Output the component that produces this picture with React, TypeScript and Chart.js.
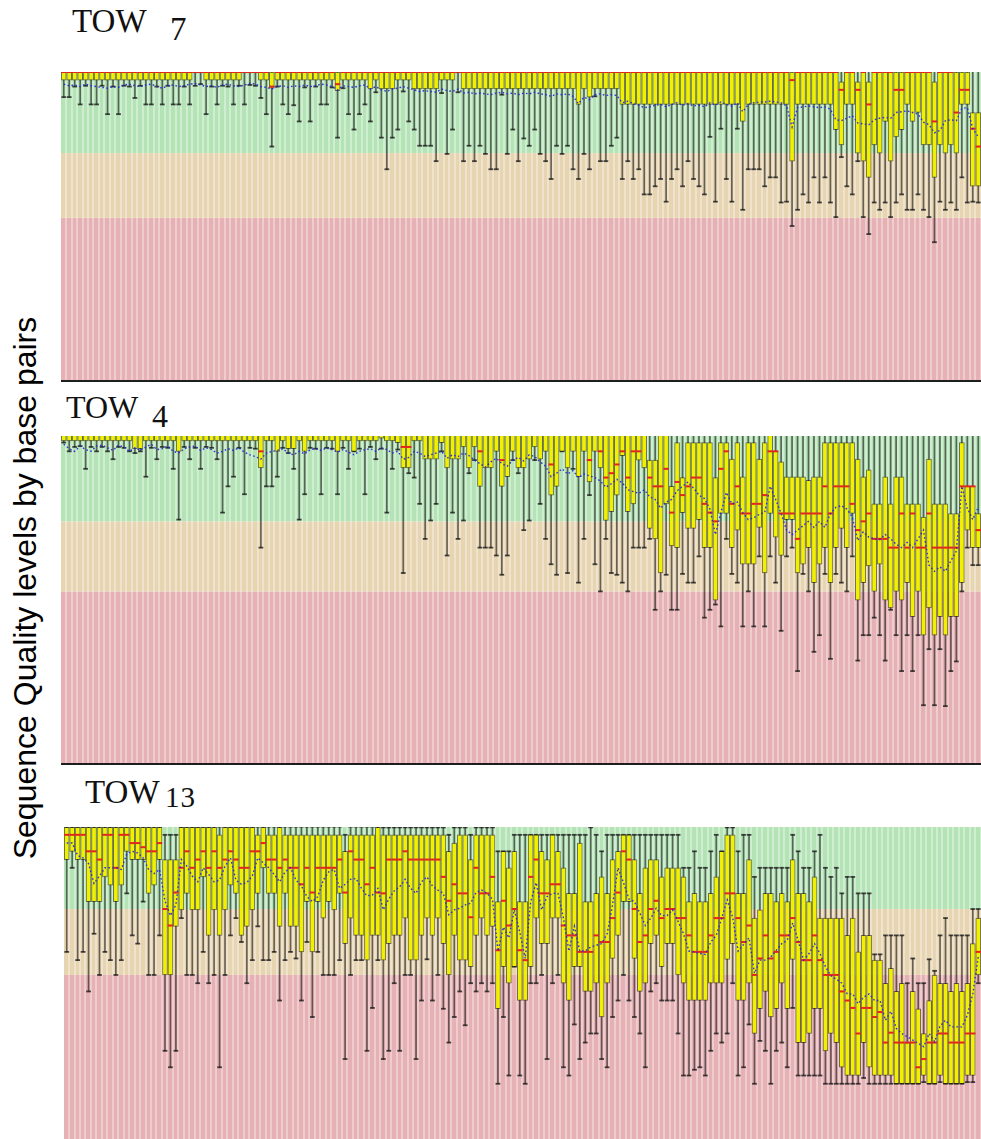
import React, { useEffect, useRef } from "react";
import { Chart, registerables } from "chart.js";

Chart.register(...registerables);

// ---------- categories ----------
const basePositions: string[] = Array.from({ length: 168 }, (_, i) => String(i + 1));

const titleWords = ["TOW", "TOW", "TOW"];
const titleNumbers = ["7", "4", "13"];
const yAxisLabel = "Sequence Quality levels by base pairs";

// quality bands (Phred score)
const bandLimits = [20, 28];

// ---------- TOW 7 ----------
const tow7Low: number[] = [
  34.9, 34.9, 36.2, 34, 36.3, 34, 34, 36.3, 32.8, 36.2,
  32.8, 36.3, 36.2, 34.8, 36.3, 34, 34, 36.2, 34, 36.3,
  34, 34, 36.2, 34, 36.3, 36.5, 32.8, 36.2, 34, 36.3,
  36.2, 34, 36.3, 34, 36.4, 36.3, 34.8, 32.8, 28.8, 36.2,
  34, 32.8, 33.9, 31.9, 36.1, 31.9, 36.2, 34, 34, 36.1,
  29.9, 36, 32.8, 30.9, 32.8, 34, 31.9, 35.5, 29.9, 26,
  29.9, 30.9, 35.6, 31.9, 30.9, 28.9, 28.9, 28.9, 27, 35.4,
  27.9, 30.9, 35.5, 27, 28.9, 27, 28.9, 27.9, 26, 26,
  35.2, 27.9, 30.9, 27, 29.8, 28.9, 30.9, 27.9, 27, 24.8,
  28.9, 27.9, 28.9, 26, 24.8, 27.9, 26, 35, 27, 27,
  28.9, 29.9, 24.8, 27, 24.8, 26, 22.9, 22.9, 23.9, 24.8,
  22, 24.8, 26, 23.9, 27, 24.8, 23.9, 22.9, 30, 22,
  31, 24.8, 22, 31, 21, 26, 26, 26, 23.9, 25,
  25, 21.9, 22, 19, 21, 22.9, 21.9, 25, 21.9, 25,
  21.9, 20.1, 27.5, 23.9, 22.9, 27, 20.1, 18, 21.9, 21,
  21.9, 20.1, 21.9, 22.9, 21, 21, 22.9, 21, 20.1, 17,
  22, 21, 21.9, 21, 25, 21.9, 22, 21.9,
];
const tow7Q1: number[] = [
  37, 37, 37, 37, 37, 37, 37, 37, 37, 37,
  37, 37, 37, 37, 37, 37, 37, 37, 37, 37,
  37, 37, 37, 37, 37.9, 37.9, 37, 37, 37, 37,
  37, 37, 37, 37.9, 37.9, 37.9, 37, 37, 36, 37,
  37, 37, 37, 37, 37, 37, 37, 37, 37, 37,
  35.7, 37, 37, 37, 37, 37, 35.9, 37, 35.9, 35.9,
  35.9, 37, 37, 37, 35.9, 35.9, 35.9, 35.9, 35.9, 37,
  37, 37, 37.9, 35.9, 35.9, 35.9, 35.9, 35.9, 35.9, 35.9,
  35.9, 35.9, 35.9, 35.9, 35.9, 35.9, 35.9, 35.9, 35.9, 35.9,
  35.9, 35.9, 35.9, 35.9, 34, 35.9, 34.9, 35.9, 35.9, 35.9,
  35.9, 35.9, 34, 34, 34, 34, 34, 34, 34, 34,
  34, 34, 34, 34, 34, 34, 34, 34, 34, 34,
  34, 34, 34, 34, 31.9, 34, 34, 34, 34, 34,
  34, 34, 34, 27, 34, 34, 34, 34, 34, 34,
  34, 30.9, 29, 34, 34, 28, 27, 25, 29, 28,
  31.9, 27, 30, 30.9, 34, 31.9, 33, 29, 29, 25,
  29, 28, 29, 28, 34, 34, 23.9, 23.9,
];
const tow7Median: number[] = [
  38, 38, 38, 38, 38, 38, 38, 38, 38, 38,
  38, 38, 38, 38, 38, 38, 38, 38, 38, 38,
  38, 38, 38, 38, 38, 38, 38, 38, 38, 38,
  38, 38, 38, 38, 38, 38, 38, 38, 36.2, 38,
  38, 38, 38, 38, 38, 38, 38, 38, 38, 38,
  36.5, 38, 38, 38, 38, 38, 38, 38, 38, 38,
  38, 38, 38, 38, 38, 38, 38, 38, 38, 38,
  38, 38, 38, 38, 38, 38, 38, 38, 38, 38,
  38, 38, 38, 38, 38, 38, 38, 38, 38, 38,
  38, 38, 38, 38, 38, 38, 38, 38, 38, 38,
  38, 38, 38, 38, 38, 38, 38, 38, 38, 38,
  38, 38, 38, 38, 38, 38, 38, 38, 38, 38,
  38, 38, 38, 38, 38, 38, 38, 38, 38, 38,
  38, 38, 38, 37, 38, 38, 38, 38, 38, 38,
  38, 38, 35.8, 38, 38, 35.8, 38, 34, 38, 38,
  38, 38, 35.8, 35.8, 38, 38, 38, 38, 38, 31.9,
  38, 38, 38, 33, 35.8, 35.8, 31, 28.8,
];
const tow7Q3: number[] = [
  38, 38, 38, 38, 38, 38, 38, 38, 38, 38,
  38, 38, 38, 38, 38, 38, 38, 38, 38, 38,
  38, 38, 38, 38, 38, 38, 38, 38, 38, 38,
  38, 38, 38, 38, 38, 38, 38, 38, 38, 38,
  38, 38, 38, 38, 38, 38, 38, 38, 38, 38,
  38, 38, 38, 38, 38, 38, 38, 38, 38, 38,
  38, 38, 38, 38, 38, 38, 38, 38, 38, 38,
  38, 38, 38, 38, 38, 38, 38, 38, 38, 38,
  38, 38, 38, 38, 38, 38, 38, 38, 38, 38,
  38, 38, 38, 38, 38, 38, 38, 38, 38, 38,
  38, 38, 38, 38, 38, 38, 38, 38, 38, 38,
  38, 38, 38, 38, 38, 38, 38, 38, 38, 38,
  38, 38, 38, 38, 38, 38, 38, 38, 38, 38,
  38, 38, 38, 38, 38, 38, 38, 38, 38, 38,
  38, 38, 36.8, 38, 38, 36.8, 38, 36.8, 38, 38,
  38, 38, 38, 38, 38, 38, 38, 38, 38, 36.8,
  38, 38, 38, 38, 38, 38, 33, 33,
];
const tow7High: number[] = [
  38, 38, 38, 38, 38, 38, 38, 38, 38, 38,
  38, 38, 38, 38, 38, 38, 38, 38, 38, 38,
  38, 38, 38, 38, 38, 38, 38, 38, 38, 38,
  38, 38, 38, 38, 38, 38, 38, 38, 38, 38,
  38, 38, 38, 38, 38, 38, 38, 38, 38, 38,
  38, 38, 38, 38, 38, 38, 38, 38, 38, 38,
  38, 38, 38, 38, 38, 38, 38, 38, 38, 38,
  38, 38, 38, 38, 38, 38, 38, 38, 38, 38,
  38, 38, 38, 38, 38, 38, 38, 38, 38, 38,
  38, 38, 38, 38, 38, 38, 38, 38, 38, 38,
  38, 38, 38, 38, 38, 38, 38, 38, 38, 38,
  38, 38, 38, 38, 38, 38, 38, 38, 38, 38,
  38, 38, 38, 38, 38, 38, 38, 38, 38, 38,
  38, 38, 38, 38, 38, 38, 38, 38, 38, 38,
  38, 38, 38, 38, 38, 38, 38, 38, 38, 38,
  38, 38, 38, 38, 38, 38, 38, 38, 38, 38,
  38, 38, 38, 38, 38, 38, 38, 38,
];
const tow7Mean: number[] = [
  36.5, 36.3, 36.4, 36.2, 36.5, 36.3, 36.2, 36.1, 36.0, 36.2,
  36.1, 36.4, 36.5, 36.3, 36.2, 36.4, 36.5, 36.2, 36.0, 36.3,
  36.4, 36.2, 36.3, 36.5, 36.6, 36.4, 36.2, 36.3, 36.1, 36.4,
  36.5, 36.3, 36.2, 36.4, 36.6, 36.5, 36.2, 36.1, 35.9, 36.2,
  36.3, 36.1, 36.3, 36.2, 36.4, 36.2, 36.3, 36.5, 36.4, 36.2,
  35.8, 36.3, 36.2, 36.1, 36.3, 36.4, 35.9, 36.2, 35.8, 35.6,
  35.9, 36.0, 36.2, 36.0, 35.8, 35.6, 35.7, 35.6, 35.5, 35.9,
  35.7, 35.6, 35.9, 35.4, 35.5, 35.3, 35.4, 35.3, 35.2, 35.4,
  35.5, 35.3, 35.4, 35.2, 35.4, 35.3, 35.5, 35.3, 35.2, 35.0,
  35.3, 35.2, 35.3, 35.0, 34.1, 34.9, 34.6, 35.2, 35.3, 35.1,
  35.2, 35.1, 34.2, 34.4, 34.1, 33.9, 33.6, 33.7, 33.9, 34.0,
  33.7, 34.0, 34.2, 33.9, 34.1, 33.8, 33.9, 33.7, 34.2, 33.9,
  34.3, 34.0, 33.8, 34.2, 33.1, 34.0, 34.2, 34.3, 34.3, 34.4,
  34.3, 34.2, 33.8, 31.2, 33.6, 33.7, 33.8, 33.7, 33.6, 33.7,
  33.4, 32.1, 32.0, 32.3, 32.6, 31.7, 31.6, 31.5, 32.1, 32.3,
  32.4, 32.3, 33.0, 33.1, 33.2, 33.0, 32.8, 31.8, 31.5, 30.5,
  30.8, 32.0, 32.1, 32.0, 33.5, 33.6, 31.0, 30.0,
];

// ---------- TOW 4 ----------
const tow4Low: number[] = [
  37, 36, 36.5, 36.6, 34, 36.5, 36, 36.5, 36, 35.1,
  36.5, 36.4, 36, 35.8, 36, 33.1, 36.4, 35.1, 36.5, 36.4,
  34, 28.2, 36.5, 35.1, 36.4, 34, 36.5, 36.4, 35.1, 29,
  32, 33.1, 36.4, 31.1, 36.4, 36.3, 25, 32, 32, 33.1,
  36.4, 35.8, 34, 28.2, 31.1, 36.4, 36.3, 31.1, 36.4, 36.3,
  31.1, 36.4, 34, 36, 36.3, 31.1, 36.5, 35.1, 36.3, 29,
  34, 36.2, 22.1, 33.5, 33, 30, 26, 28.1, 30, 36,
  24.1, 29, 26, 28.1, 33.5, 35, 25, 25, 25, 24.1,
  21.9, 24.1, 35, 33.5, 27, 28.1, 35, 30, 26, 23.1,
  21.9, 36, 22.1, 34, 21, 26, 31, 23.1, 20, 26,
  22.1, 21.9, 21, 20, 25, 25, 25, 26, 17.9, 20,
  21.9, 17.9, 17.9, 22, 21, 21, 24, 17, 17.9, 18.5,
  16, 26, 22, 21, 16, 20, 16, 24, 16, 24,
  21, 15.5, 24, 25, 10.9, 22, 20, 13.1, 15, 22,
  12.3, 22, 21, 20, 24, 12.1, 15, 15, 17, 15,
  12.1, 17.9, 15, 10.9, 15, 10.9, 15, 7, 13.4, 7,
  13.4, 6.9, 10.9, 12, 20, 25, 23, 23,
];
const tow4Q1: number[] = [
  37.2, 37.2, 37.2, 37.2, 37.2, 37.2, 37.2, 37.2, 37.2, 37.2,
  37.2, 37.2, 37.2, 36.3, 36.3, 37.2, 37.2, 37.2, 37.2, 37.2,
  37.2, 36, 37.2, 37.2, 37.2, 37.2, 37.2, 37.2, 37.2, 37.2,
  37.2, 37.2, 37.2, 37.2, 37.2, 37.2, 34.1, 37.2, 37.2, 36,
  37.2, 36.3, 36.3, 37.2, 36, 37.2, 37.2, 37.2, 37.2, 37.2,
  36, 37.2, 37.2, 36, 37.2, 37.2, 37.2, 37.2, 37.5, 37.2,
  37.2, 37, 34.1, 34.1, 37.2, 37.2, 35.1, 35.1, 35.1, 37,
  34.1, 35.1, 35.1, 36.5, 34.1, 36.5, 32, 34.1, 34.1, 36,
  32, 33.1, 36, 34.1, 34.1, 35.1, 36.5, 35.1, 36, 31,
  32, 36, 34.1, 36, 33.1, 36, 32.5, 36, 34.1, 28.1,
  29.1, 31, 35.5, 29.1, 30, 35, 34.1, 27.2, 26, 22.1,
  30, 25.2, 25, 29, 27.2, 27.2, 28.2, 25, 25, 19,
  28.9, 28.9, 25, 27, 23.1, 23.1, 23.1, 27.3, 22.1, 28.9,
  26.2, 24.1, 28.2, 28.2, 22.1, 23.1, 25, 21, 23.1, 25,
  21, 25, 27.2, 25, 28.9, 19, 21, 22.9, 20, 23.1,
  19, 18.1, 20, 19, 21, 17.1, 20, 15, 18.1, 15,
  17.1, 15, 17.1, 17.1, 21, 27, 25, 25,
];
const tow4Median: number[] = [
  38, 38, 38, 38, 38, 38, 38, 38, 38, 38,
  38, 38, 38, 38, 38, 38, 38, 38, 38, 38,
  38, 38, 38, 38, 38, 38, 38, 38, 38, 38,
  38, 38, 38, 38, 38, 38, 36, 38, 38, 38,
  38, 38, 38, 38, 38, 38, 38, 38, 38, 38,
  38, 38, 38, 38, 38, 38, 38, 38, 38, 38,
  38, 38, 36.5, 36.5, 38, 38, 38, 38, 38, 38,
  38, 38, 38, 38, 38, 38, 36, 38, 38, 38,
  35, 38, 38, 38, 38, 38, 38, 38, 38, 34.5,
  38, 38, 38, 38, 38, 38, 35, 38, 36, 33,
  33.5, 34.5, 36, 33, 36, 36, 38, 33, 32, 32,
  34, 29, 32.5, 31, 32, 33, 33, 30, 29, 28,
  34, 36, 30, 32, 28.9, 28.9, 30, 30, 31, 36,
  36, 28.9, 28.9, 28.9, 26, 28.9, 28.9, 28.9, 28.9, 32,
  28.9, 32, 32, 32, 30, 27, 28, 28.9, 26, 26,
  26, 25, 25, 28.9, 25, 28.9, 25, 25, 28.9, 25,
  25, 25, 25, 25, 32, 32, 32, 27,
];
const tow4Q3: number[] = [
  38, 38, 38, 38, 38, 38, 38, 38, 38, 38,
  38, 38, 38, 38, 38, 38, 38, 38, 38, 38,
  38, 38, 38, 38, 38, 38, 38, 38, 38, 38,
  38, 38, 38, 38, 38, 38, 38, 38, 38, 38,
  38, 38, 38, 38, 38, 38, 38, 38, 38, 38,
  38, 38, 38, 38, 38, 38, 38, 38, 38, 38,
  38, 38, 38, 38, 38, 38, 38, 38, 38, 38,
  38, 38, 38, 38, 38, 38, 38, 38, 38, 38,
  38, 38, 38, 38, 38, 38, 38, 38, 38, 38,
  38, 38, 38, 38, 38, 38, 38, 38, 38, 38,
  38, 38, 38, 38, 38, 38, 38, 35, 35, 38,
  38, 32, 37, 33, 37, 37, 37, 37, 37, 33,
  37, 37, 35.1, 37, 33.1, 37, 37, 35.1, 37, 38,
  36, 34.8, 33.1, 33.1, 33.1, 33.1, 32.7, 33.1, 33.1, 37,
  37, 37, 37, 37, 37, 35.1, 33.1, 33.9, 30, 30,
  33.1, 30, 33.1, 33.1, 30, 30, 30, 28.5, 35.1, 30,
  30, 30, 28.9, 28.9, 37, 32, 32, 28.9,
];
const tow4High: number[] = [
  38, 38, 38, 38, 38, 38, 38, 38, 38, 38,
  38, 38, 38, 38, 38, 38, 38, 38, 38, 38,
  38, 38, 38, 38, 38, 38, 38, 38, 38, 38,
  38, 38, 38, 38, 38, 38, 38, 38, 38, 38,
  38, 38, 38, 38, 38, 38, 38, 38, 38, 38,
  38, 38, 38, 38, 38, 38, 38, 38, 38, 38,
  38, 38, 38, 38, 38, 38, 38, 38, 38, 38,
  38, 38, 38, 38, 38, 38, 38, 38, 38, 38,
  38, 38, 38, 38, 38, 38, 38, 38, 38, 38,
  38, 38, 38, 38, 38, 38, 38, 38, 38, 38,
  38, 38, 38, 38, 38, 38, 38, 38, 38, 38,
  38, 38, 38, 38, 38, 38, 38, 38, 38, 38,
  38, 38, 38, 38, 38, 38, 38, 38, 38, 38,
  38, 38, 38, 38, 38, 38, 38, 38, 38, 38,
  38, 38, 38, 38, 38, 38, 38, 38, 38, 38,
  38, 38, 38, 38, 38, 38, 38, 38, 38, 38,
  38, 38, 38, 38, 38, 38, 38, 38,
];
const tow4Mean: number[] = [
  36.8, 36.3, 36.0, 36.6, 36.2, 36.0, 36.6, 36.7, 36.4, 36.1,
  36.7, 36.5, 36.0, 36.4, 36.1, 36.5, 36.8, 36.2, 36.3, 36.6,
  36.0, 35.8, 36.3, 36.5, 36.6, 36.1, 36.4, 36.2, 35.8, 36.0,
  36.3, 36.1, 36.4, 35.9, 35.6, 35.4, 35.1, 35.8, 36.0, 36.1,
  36.3, 35.8, 35.6, 36.0, 35.7, 36.2, 36.3, 36.1, 36.4, 36.2,
  35.9, 36.2, 35.9, 35.6, 36.0, 36.2, 36.3, 36.0, 36.4, 36.2,
  35.8, 36.0, 35.1, 35.3, 36.0, 35.8, 35.4, 35.6, 35.8, 36.0,
  35.2, 35.6, 35.4, 35.8, 35.5, 35.0, 34.6, 34.2, 34.8, 35.2,
  34.6, 34.3, 35.0, 35.3, 34.9, 35.6, 35.4, 34.8, 34.3, 33.1,
  33.5, 34.0, 33.4, 33.8, 33.0, 33.4, 33.2, 33.0, 32.6, 31.9,
  32.3, 32.8, 32.4, 31.6, 31.4, 31.2, 31.6, 30.8, 30.5, 29.5,
  30.2, 30.5, 31.5, 32.0, 32.5, 31.8, 31.0, 30.6, 29.4, 26.5,
  29.0, 31.3, 30.0, 30.2, 29.0, 28.2, 28.4, 28.8, 29.0, 32.0,
  30.5, 28.9, 27.0, 26.5, 27.0, 27.5, 28.0, 27.3, 28.0, 27.3,
  28.9, 29.6, 29.8, 29.4, 28.5, 25.8, 26.8, 26.2, 26.0, 25.9,
  26.5, 26.0, 25.4, 25.0, 25.6, 25.0, 26.0, 27.0, 23.0, 22.3,
  22.8, 22.3, 23.5, 24.6, 32.0, 29.5, 28.2, 29.6,
];

// ---------- TOW 13 ----------
const tow13Low: number[] = [
  22.8, 33, 21.8, 22.8, 18, 25, 20, 22.8, 21.8, 20,
  21.8, 29.9, 24.8, 23.8, 28.9, 20, 20, 24.8, 10.8, 8.8,
  10.8, 26.9, 20, 20, 19, 22.8, 19, 20, 8.8, 20,
  24.8, 26.9, 24, 19, 21.8, 25.9, 21.8, 21.8, 22.8, 16.9,
  21.8, 22.8, 22, 16.9, 24, 14.9, 22.8, 20, 20, 20,
  21.8, 9.8, 20, 21.8, 21.8, 10.8, 16, 21.8, 9.8, 10.8,
  19, 10.8, 20, 20, 9.8, 16.9, 21.9, 16.9, 20, 15.9,
  11.8, 14.9, 18, 13.9, 19, 18, 19, 18, 19, 6.8,
  14.9, 7.8, 21, 7.8, 6.8, 19, 19, 20, 9.8, 19,
  20, 8.8, 7.8, 14, 9.8, 11.8, 12.9, 12.9, 9.8, 8.8,
  14.9, 16.9, 20, 16.9, 14.9, 12.9, 8.8, 18, 19, 16.9,
  16.9, 16.9, 12.9, 7.8, 7.8, 8.5, 8.8, 7.8, 10.8, 12.9,
  11.8, 12.9, 19, 7.8, 8.8, 14, 6.8, 12, 10.8, 6.8,
  10.8, 11.8, 8.8, 16, 7.8, 7.8, 7.8, 7.8, 7.8, 6.8,
  6.8, 6.8, 6.8, 6.8, 6.8, 6.8, 7.5, 6.8, 6.8, 6.8,
  6.8, 6.8, 6.8, 6.8, 6.8, 6.8, 6.8, 7, 6.8, 6.8,
  7, 6.8, 6.8, 6.8, 6.8, 7, 7, 19,
];
const tow13Q1: number[] = [
  34, 35, 34, 34, 28.9, 28.9, 28.9, 31.9, 30.9, 28.9,
  30.9, 35, 34, 34, 34, 29.9, 30.9, 34, 20, 20,
  25.9, 27.9, 29.9, 27.9, 27.9, 31.9, 24.8, 27.9, 24.8, 27.9,
  30.9, 29.9, 24.8, 25.9, 27.9, 29.9, 33, 29.9, 29.9, 25.9,
  29.9, 25.9, 25.9, 22.8, 28.9, 22.8, 28.9, 26.9, 28.9, 27.9,
  29.9, 23.8, 26.9, 24.8, 24.8, 21.8, 24.8, 24.8, 21.8, 23.8,
  24.8, 24.8, 26.9, 21.8, 21.8, 24.8, 26.9, 24.8, 26.9, 23.8,
  20, 24.8, 21.8, 21.8, 21, 24.8, 26.9, 24.8, 25.9, 15.9,
  21, 19, 21, 16.9, 16.9, 21, 26.9, 23.8, 23.8, 26.9,
  26.9, 19, 16.9, 21, 21, 18, 18, 19, 14.9, 19,
  22, 24.8, 28.9, 28.9, 22, 18, 19, 23.8, 24.8, 21,
  23.8, 23.8, 20, 19, 16.9, 16.9, 16.9, 16.9, 19, 19,
  19, 21.9, 23.8, 16.9, 16.9, 19, 12.9, 15.9, 18, 14.9,
  15.9, 19, 15.9, 21.9, 11.8, 11.8, 12.9, 15.9, 15.9, 10.8,
  12.9, 11.8, 8.8, 7.8, 7.8, 7.8, 11.8, 8.8, 7.8, 7.8,
  7.8, 7.8, 6.8, 6.8, 6.8, 6.8, 6.8, 7.8, 6.8, 6.8,
  7.8, 6.8, 6.8, 6.8, 6.8, 7.8, 7.8, 20,
];
const tow13Median: number[] = [
  37, 37, 37, 37, 35, 35, 34, 37, 37, 33,
  37, 37, 36, 36, 35.5, 35, 35, 36, 28, 26,
  30, 33, 35, 33, 34, 35, 33, 35, 33, 34,
  35, 34, 33, 33, 35, 35, 36, 34, 34, 33,
  34, 33, 33, 31, 33, 30, 33, 33, 33, 33,
  34, 30, 35, 34, 34, 31, 33, 30, 29.9, 34,
  34, 34, 35, 34, 34, 34, 34, 34, 34, 31.9,
  29, 31, 29.9, 29.9, 27, 33, 29.9, 29.9, 31.9, 23,
  29, 26, 28, 23, 21.8, 31.9, 34, 29.9, 29.9, 31,
  31, 26, 24.8, 24.8, 22.8, 22.8, 22.8, 24.8, 24, 24,
  26.9, 30, 35, 34, 28, 24, 24.8, 28, 29, 26.9,
  28, 28, 26.9, 26.9, 24.8, 22.8, 22.8, 22.8, 24.8, 26.9,
  26.9, 29.9, 29.9, 26.9, 24, 26, 20, 22, 24.8, 22,
  22.8, 24.8, 24.8, 26.9, 24, 21.8, 21.8, 24.8, 21.8, 20,
  20, 20, 18, 16.9, 16, 12.9, 16, 16, 14.9, 15.5,
  11.8, 13, 11.8, 11.8, 11.8, 11.8, 8.8, 9.8, 11.8, 11.8,
  12.9, 12.9, 11.8, 11.8, 11.8, 12.9, 12.9, 22.8,
];
const tow13Q3: number[] = [
  37.9, 37.9, 37.9, 37.9, 37.9, 37.9, 37.9, 37.9, 37.9, 37.9,
  37.9, 37.9, 37.9, 37.9, 37.9, 37.9, 37.9, 37.9, 34, 34,
  34, 37.9, 37.9, 37.9, 37.9, 37.9, 37.9, 37.9, 37, 37.9,
  37.9, 37.9, 37.9, 37.9, 37.9, 37, 37.9, 37, 37, 37.9,
  37, 37, 37, 37, 37, 37, 37, 37, 37, 37,
  37, 35, 37, 37, 37, 37, 37, 37.9, 37, 37,
  37, 37, 37, 37, 37, 37, 37, 37, 37, 37,
  35, 36, 37, 37, 34, 37, 37, 37, 37, 28.9,
  35, 33, 35, 28.9, 28.9, 37, 37, 35, 34, 37,
  35, 33, 29.9, 29.9, 36, 28.9, 28.9, 29.9, 31.9, 29.9,
  34, 35, 37, 37, 34, 29.9, 33, 34, 34, 31.9,
  33, 33, 33, 31.9, 28.9, 29.9, 28.9, 28.9, 29.9, 31.9,
  35, 37, 37, 29.9, 29.9, 34, 26.9, 27.9, 29.9, 29.9,
  28.9, 29.9, 28.9, 34, 29.9, 29.9, 28.9, 31.9, 26.9, 26.9,
  26.9, 26.9, 26.9, 24.8, 26.9, 22.8, 24.8, 24.8, 21.8, 21.8,
  19, 20.8, 18, 19, 11.8, 18, 15.9, 12.9, 16.9, 20,
  19, 19, 18, 19, 18, 19, 23.8, 26.9,
];
const tow13High: number[] = [
  38, 38, 38, 38, 38, 38, 38, 38, 38, 38,
  38, 38, 38, 38, 38, 38, 38, 38, 37, 37,
  37, 38, 38, 38, 38, 38, 38, 38, 38, 38,
  38, 38, 38, 38, 38, 38, 38, 38, 38, 38,
  38, 38, 38, 38, 38, 38, 38, 38, 38, 38,
  38, 37, 38, 38, 38, 38, 38, 38, 37.9, 37.9,
  37.9, 37.9, 37.9, 37.9, 37.9, 37.9, 37.9, 37.9, 37.9, 37.9,
  37, 37.9, 37.9, 37.9, 37, 37.9, 37.9, 37.9, 37.9, 35,
  35, 35, 37, 37, 37, 37, 37, 37, 37, 37,
  37, 37, 37, 37, 37, 37, 37.9, 37, 35, 37,
  37, 37, 37, 37, 37, 37, 37, 37, 37, 37,
  37, 37, 37, 33, 33, 35, 33, 33, 35, 37,
  35, 37.9, 37.9, 35, 37, 37, 31.9, 33, 33, 33,
  33, 33, 33, 37, 35, 33, 33, 35, 37, 33,
  31.9, 33, 29.9, 31.9, 31.9, 29.9, 29.9, 29.9, 22.5, 22.5,
  24.8, 24.8, 24.8, 24.8, 19, 22, 19, 19, 21.9, 20.5,
  24.8, 26.9, 24.8, 24.8, 24.8, 24.8, 28, 28,
];
const tow13Mean: number[] = [
  36, 36, 34.5, 34.2, 33.5, 31.1, 32, 33, 33, 33,
  32.8, 34.7, 35, 34.8, 34.2, 32.8, 32.3, 32.8, 29, 27.2,
  28.5, 34, 33.2, 32, 31.3, 33, 32.2, 31.3, 31.5, 33.2,
  34.2, 31.5, 31, 31.2, 32, 34.2, 33.6, 33, 32.2, 31.3,
  32.5, 33, 31.5, 30.8, 29.5, 28.9, 29.5, 31.5, 32.5, 32.8,
  30.5, 31, 31.6, 31.7, 30.5, 29.6, 29.7, 30.5, 27.9, 29.2,
  30.2, 30.7, 31.6, 30.5, 29.9, 31.3, 31.9, 30.8, 30.3, 29.9,
  27.3, 27.9, 28.1, 28.5, 28.7, 30, 30.3, 29.9, 29.2, 22.9,
  25.8, 24.5, 27.9, 25.2, 22, 28.9, 31.2, 27.9, 29.5, 29.9,
  29.9, 26.9, 22.9, 25.9, 22.9, 22.9, 23.4, 23.6, 23.8, 25,
  28.5, 33, 31.2, 29.2, 28.9, 27.5, 26, 26.9, 28.1, 27.2,
  27.2, 27.9, 26.5, 25, 22.9, 22.8, 22.6, 22.5, 24, 24.8,
  26.9, 29.1, 27, 22.9, 23.7, 24.5, 20.2, 21.8, 21.8, 22.2,
  23, 23.8, 24.2, 26.3, 24.2, 21.8, 22.6, 23.8, 22.6, 21,
  19.9, 19.5, 19, 17.7, 17.7, 16.5, 17.3, 17.7, 16.9, 16.9,
  14.5, 15.6, 13.5, 12.9, 12.5, 12.1, 11.7, 11.3, 12.9, 11.9,
  13.8, 14.5, 13.7, 13.7, 13.7, 15.1, 17.7, 22.2,
];

// ---------- drawing helpers ----------
const bandPlugin = {
  id: "qualityBands",
  beforeDatasetsDraw(chart: any) {
    const { ctx, chartArea: a, scales } = chart;
    const x = scales.x;
    const y = scales.y;
    const yTop = y.max;
    const yBot = y.min;
    const bands: [number, number, string][] = [
      [yBot, bandLimits[0], "#e6b1b4"],
      [bandLimits[0], bandLimits[1], "#e7d4b1"],
      [bandLimits[1], yTop, "#b4e3b6"],
    ];
    ctx.save();
    for (const [lo, hi, c] of bands) {
      const p0 = y.getPixelForValue(lo);
      const p1 = y.getPixelForValue(hi);
      ctx.fillStyle = c;
      ctx.fillRect(a.left, Math.min(p0, p1), a.width, Math.abs(p0 - p1));
    }
    const n = chart.data.labels.length;
    const w = x.getPixelForValue(1) - x.getPixelForValue(0);
    ctx.fillStyle = "rgba(255,255,255,0.36)";
    for (let i = 0; i < n; i++) {
      const cx = x.getPixelForValue(i);
      ctx.fillRect(Math.round(cx + 0.25 * w), a.top, 2, a.height);
    }
    ctx.restore();
  },
};

type PanelProps = {
  left: number;
  top: number;
  width: number;
  height: number;
  yMin: number;
  yMax: number;
  low: number[];
  q1: number[];
  median: number[];
  q3: number[];
  high: number[];
  mean: number[];
  highCaps: boolean;
};

function QualityPanel(p: PanelProps) {
  const ref = useRef<HTMLCanvasElement | null>(null);
  useEffect(() => {
    if (!ref.current) return;
    const datasets: any[] = [
      {
        type: "line",
        label: "Mean",
        data: p.mean,
        borderColor: "rgba(40,40,215,0.95)",
        borderWidth: 1.4,
        borderDash: [1.6, 2.4],
        pointRadius: 0,
        fill: false,
        tension: 0,
        order: 0,
      },
      {
        type: "line",
        label: "Median",
        data: p.median,
        showLine: false,
        pointStyle: "line",
        pointRadius: 2.7,
        pointBorderWidth: 2,
        pointBorderColor: "#e3261b",
        pointBackgroundColor: "#e3261b",
        order: 1,
      },
      {
        type: "bar",
        label: "Inter-quartile range",
        data: p.q1.map((v, i) => [v, p.q3[i]]),
        backgroundColor: "#f0f000",
        borderColor: "rgba(30,30,0,0.6)",
        borderWidth: 1,
        borderSkipped: false,
        barThickness: 5,
        grouped: false,
        order: 2,
      },
      {
        type: "line",
        label: "Lower whisker cap",
        data: p.low,
        showLine: false,
        pointStyle: "line",
        pointRadius: 2.4,
        pointBorderWidth: 1.8,
        pointBorderColor: "rgba(20,20,20,0.75)",
        order: 3,
      },
      {
        type: "bar",
        label: "Whisker",
        data: p.low.map((v, i) => [v, p.high[i]]),
        backgroundColor: "rgba(25,25,25,0.62)",
        borderWidth: 0,
        barThickness: 1,
        grouped: false,
        order: 4,
      },
    ];
    if (p.highCaps) {
      datasets.push({
        type: "line",
        label: "Upper whisker cap",
        data: p.high,
        showLine: false,
        pointStyle: "line",
        pointRadius: 2.4,
        pointBorderWidth: 1.8,
        pointBorderColor: "rgba(20,20,20,0.75)",
        order: 3,
      });
    }
    const chart = new Chart(ref.current, {
      type: "bar",
      data: { labels: basePositions, datasets },
      options: {
        animation: false,
        responsive: false,
        maintainAspectRatio: false,
        events: [],
        layout: { padding: 0, autoPadding: false },
        plugins: {
          legend: { display: false },
          tooltip: { enabled: false },
          title: { display: false },
        },
        scales: {
          x: { display: false, offset: true, grid: { display: false } },
          y: { display: false, min: p.yMin, max: p.yMax },
        },
      },
      plugins: [bandPlugin],
    } as any);
    return () => chart.destroy();
  }, []);
  return (
    <canvas
      ref={ref}
      width={p.width}
      height={p.height}
      style={{
        position: "absolute",
        left: p.left,
        top: p.top,
        width: p.width,
        height: p.height,
        display: "block",
      }}
    />
  );
}

const serif = '"Liberation Serif", "DejaVu Serif", serif';

export default function App() {
  return (
    <div
      style={{
        position: "absolute",
        left: 0,
        top: 0,
        width: 981,
        height: 1139,
        overflow: "hidden",
        background: "#ffffff",
      }}
    >
      {/* Titles */}
      <div style={{ position: "absolute", left: 72, top: 5, fontFamily: serif, fontSize: 33, lineHeight: "33px", color: "#111", whiteSpace: "nowrap" }}>
        {titleWords[0]}
      </div>
      <div style={{ position: "absolute", left: 170, top: 13, fontFamily: serif, fontSize: 33, lineHeight: "33px", color: "#111" }}>
        {titleNumbers[0]}
      </div>

      <div style={{ position: "absolute", left: 66, top: 391, fontFamily: serif, fontSize: 32, lineHeight: "32px", color: "#111", whiteSpace: "nowrap" }}>
        {titleWords[1]}
      </div>
      <div style={{ position: "absolute", left: 152, top: 400, fontFamily: serif, fontSize: 32, lineHeight: "32px", color: "#111" }}>
        {titleNumbers[1]}
      </div>

      <div style={{ position: "absolute", left: 85, top: 776, fontFamily: serif, fontSize: 33, lineHeight: "33px", color: "#111", whiteSpace: "nowrap" }}>
        {titleWords[2]}
      </div>
      <div style={{ position: "absolute", left: 165, top: 783, fontFamily: serif, fontSize: 29, lineHeight: "29px", color: "#111", letterSpacing: 1 }}>
        {titleNumbers[2]}
      </div>

      {/* Y axis label */}
      <div
        style={{
          position: "absolute",
          left: 25 - 300,
          top: 588 - 16,
          width: 600,
          height: 32,
          lineHeight: "32px",
          fontSize: 32,
          fontFamily: '"Liberation Sans", Arial, sans-serif',
          textAlign: "center",
          whiteSpace: "nowrap",
          color: "#000",
          transform: "rotate(-90deg)",
          transformOrigin: "50% 50%",
        }}
      >
        {yAxisLabel}
      </div>

      <QualityPanel left={61} top={72} width={920} height={308} yMin={0} yMax={38}
        low={tow7Low} q1={tow7Q1} median={tow7Median} q3={tow7Q3} high={tow7High} mean={tow7Mean} highCaps={false} />
      <div style={{ position: "absolute", left: 61, top: 380, width: 920, height: 2, background: "#1e1e1e" }} />

      <QualityPanel left={61} top={436} width={920} height={327} yMin={0.4} yMax={37.75}
        low={tow4Low} q1={tow4Q1} median={tow4Median} q3={tow4Q3} high={tow4High} mean={tow4Mean} highCaps={false} />
      <div style={{ position: "absolute", left: 61, top: 763, width: 920, height: 2, background: "#1e1e1e" }} />

      <QualityPanel left={64} top={827} width={917} height={312} yMin={0.1} yMax={37.95}
        low={tow13Low} q1={tow13Q1} median={tow13Median} q3={tow13Q3} high={tow13High} mean={tow13Mean} highCaps={true} />
    </div>
  );
}
